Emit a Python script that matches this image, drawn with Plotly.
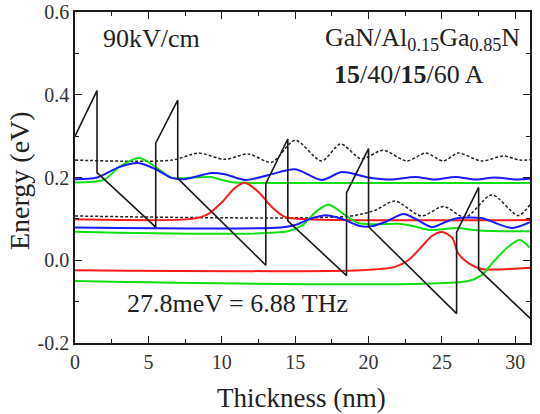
import plotly.graph_objects as go

# Conduction band profile (nm, eV)
cb_x = [0, 1.5, 1.5, 5.5, 5.5, 7.0, 7.0, 13.0, 13.0, 14.5, 14.5, 18.5, 18.5, 20.0, 20.0, 26.0, 26.0, 27.5, 27.5, 31.5]
cb_y = [0.300, 0.410, 0.212, 0.080, 0.283, 0.387, 0.198, -0.012, 0.185, 0.293, 0.095, -0.037, 0.163, 0.270, 0.081, -0.129, 0.068, 0.176, -0.022, -0.157]

# Wavefunctions
dash_hi_x = [0, 6.6, 8.4, 10.2, 11.8, 13.4, 15.0, 16.8, 18.1, 19.5, 21.0, 22.6, 23.9, 25.1, 26.1, 27.7, 29.2, 30.3, 31.0]
dash_hi_y = [0.242, 0.242, 0.259, 0.244, 0.257, 0.237, 0.290, 0.240, 0.281, 0.245, 0.266, 0.240, 0.259, 0.240, 0.259, 0.240, 0.252, 0.242, 0.243]

dash_lo_x = [0, 18.8, 20.45, 21.8, 23.6, 25.1, 26.6, 28.4, 30.2, 31.0]
dash_lo_y = [0.107, 0.107, 0.121, 0.143, 0.107, 0.130, 0.104, 0.158, 0.108, 0.135]

blue_hi_x = [0, 1.5, 3.0, 4.3, 5.5, 6.6, 7.5, 9.3, 10.2, 11.6, 13.2, 15.0, 16.8, 18.2, 20.0, 21.5, 23.2, 24.5, 25.9, 27.3, 28.6, 30.0, 31.0]
blue_hi_y = [0.196, 0.200, 0.225, 0.235, 0.220, 0.199, 0.196, 0.211, 0.208, 0.194, 0.206, 0.220, 0.194, 0.213, 0.200, 0.195, 0.201, 0.195, 0.201, 0.195, 0.200, 0.195, 0.197]

green_hi_x = [0, 2.0, 3.0, 4.4, 5.5, 6.6, 8.0, 9.3, 9.8, 10.9, 12.0, 31.0]
green_hi_y = [0.188, 0.195, 0.225, 0.247, 0.225, 0.199, 0.200, 0.201, 0.196, 0.188, 0.187, 0.187]

red_hi_x = [0, 8.0, 9.0, 10.0, 10.9, 11.6, 12.5, 13.4, 14.3, 15.9, 31.0]
red_hi_y = [0.099, 0.100, 0.110, 0.140, 0.175, 0.187, 0.165, 0.129, 0.105, 0.099, 0.097]

blue_lo_x = [0, 14.0, 15.0, 16.0, 17.1, 18.2, 19.4, 20.2, 21.1, 22.4, 23.3, 24.3, 25.2, 26.1, 27.7, 28.8, 29.8, 31.0]
blue_lo_y = [0.079, 0.079, 0.085, 0.100, 0.109, 0.100, 0.083, 0.082, 0.092, 0.112, 0.098, 0.080, 0.092, 0.102, 0.102, 0.088, 0.078, 0.092]

green_mid_x = [0, 14.5, 15.5, 16.5, 17.3, 18.4, 19.3, 20.5, 22.0, 23.0, 24.2, 26.0, 27.5, 31.0]
green_mid_y = [0.069, 0.070, 0.085, 0.120, 0.134, 0.109, 0.090, 0.087, 0.088, 0.083, 0.073, 0.078, 0.072, 0.070]

red_lo_x = [0, 19.5, 21.8, 22.7, 23.6, 24.3, 25.0, 25.7, 26.1, 26.8, 27.7, 31.0]
red_lo_y = [-0.024, -0.024, -0.016, 0.000, 0.032, 0.058, 0.068, 0.054, 0.017, -0.007, -0.021, -0.018]

green_lo_x = [0, 26.8, 27.7, 28.6, 29.5, 30.3, 31.0]
green_lo_y = [-0.050, -0.050, -0.036, 0.000, 0.032, 0.049, 0.030]

x_ticks = [0, 5, 10, 15, 20, 25, 30]
y_ticks = [-0.2, 0.0, 0.2, 0.4, 0.6]
y_tick_text = ["-0.2", "0.0", "0.2", "0.4", "0.6"]

RED = "#ff1a1a"
GREEN = "#10e010"
BLUE = "#1a1aff"

fig = go.Figure()

def add(x, y, color, width=2, dash=None, spline=True):
    fig.add_trace(go.Scatter(
        x=x, y=y, mode="lines",
        line=dict(color=color, width=width, dash=dash,
                  shape="spline" if spline else "linear", smoothing=0.8),
        showlegend=False, hoverinfo="skip"))

add(dash_hi_x, dash_hi_y, "#222222", 1.5, "3px,2px")
add(dash_lo_x, dash_lo_y, "#222222", 1.5, "3px,2px")
add(green_hi_x, green_hi_y, GREEN)
add(blue_hi_x, blue_hi_y, BLUE)
add(red_hi_x, red_hi_y, RED)
add(green_mid_x, green_mid_y, GREEN)
add(blue_lo_x, blue_lo_y, BLUE)
add(red_lo_x, red_lo_y, RED)
add(green_lo_x, green_lo_y, GREEN)
add(cb_x, cb_y, "#1a1a1a", 1.6, None, spline=False)

FONT = "Liberation Serif"
TXT = "#222222"

def note(x, y, text, size=26, xanchor="left", **kw):
    fig.add_annotation(x=x, y=y, text=text, showarrow=False, xanchor=xanchor,
                       yanchor="middle", font=dict(family=FONT, size=size, color=TXT), **kw)

note(1.8, 0.535, "90kV/cm", xref="x", yref="y")
note(30.45, 0.535, "GaN/Al<sub>0.15</sub>Ga<sub>0.85</sub>N", xanchor="right", xref="x", yref="y")
note(17.5, 0.448, "<b>15</b>/40/<b>15</b>/60 A", xref="x", yref="y")
note(3.4, -0.105, "27.8meV = 6.88 THz", xref="x", yref="y")

# Axis titles
note((301 - 75) / 455, 1 - (398 - 12) / 331, "Thickness (nm)", size=27, xanchor="center",
     xref="paper", yref="paper")
note((19 - 75) / 455, 1 - (181 - 12) / 331, "Energy (eV)", size=28, xanchor="center",
     xref="paper", yref="paper", textangle=-90)

axis_common = dict(showline=True, linecolor="#1a1a1a", linewidth=1.5, mirror="ticks",
                   ticks="inside", ticklen=7, tickwidth=1.3, tickcolor="#1a1a1a",
                   showgrid=False, zeroline=False, automargin=False,
                   tickfont=dict(family=FONT, size=20, color="#333333"))

fig.update_xaxes(range=[0, 31], tickvals=x_ticks,
                 minor=dict(dtick=2.5, ticks="inside", ticklen=4, tickwidth=1.2, tickcolor="#1a1a1a", showgrid=False),
                 **axis_common)
fig.update_yaxes(range=[-0.2, 0.6], tickvals=y_ticks, ticktext=y_tick_text,
                 minor=dict(dtick=0.1, ticks="inside", ticklen=4, tickwidth=1.2, tickcolor="#1a1a1a", showgrid=False),
                 **axis_common)

fig.update_layout(width=540, height=414, margin=dict(l=75, r=10, t=12, b=71),
                  plot_bgcolor="white", paper_bgcolor="white")

fig.write_html("out.html")
